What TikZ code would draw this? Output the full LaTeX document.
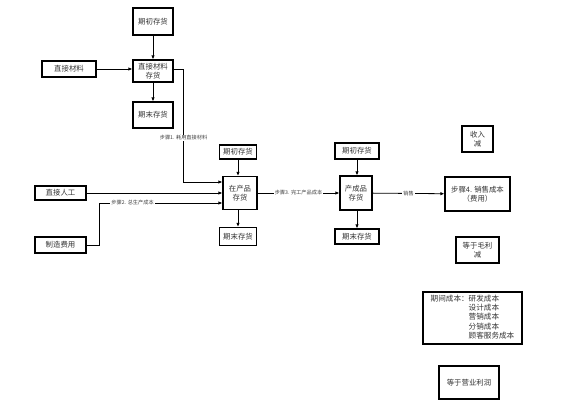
\documentclass[tikz,border=0pt]{standalone}
\usepackage{fontspec}
\setmainfont{Noto Sans CJK SC}
\usepackage{tikz}
\usetikzlibrary{positioning,arrows.meta,calc}
\tikzset{
  box/.style={draw=black, line width=1.1pt, fill=white, align=center, inner sep=0pt,
              font=\fontsize{7.4}{9.5}\selectfont, text=black!80},
  lbl/.style={fill=white, inner sep=1pt, font=\fontsize{5.2}{6}\selectfont, text=black!75},
  flowarr/.style={-{Latex[length=4pt,width=3.4pt]}, line width=.8pt, draw=black},
}

\begin{document}
\begin{tikzpicture}[x=1pt,y=-1pt]
  \useasboundingbox (0,0) rectangle (572,407);
  % raw materials
  \node[box, minimum width=40, minimum height=27] (bi1) at (153,21.5) {期初存货};
  \node[box, minimum width=40, minimum height=22] (dmi) at (153,71) {直接材料\\存货};
  \node[box, minimum width=54, minimum height=16] (dm) at (69,69) {直接材料};
  \node[box, minimum width=40, minimum height=26] (ei1) at (153,115) {期末存货};
  % work in process
  \node[box, minimum width=37, minimum height=14] (bi2) at (238,152) {期初存货};
  \node[box, minimum width=34, minimum height=33] (wip) at (240,193) {在产品\\存货};
  \node[box, minimum width=37, minimum height=18] (ei2) at (238,236.5) {期末存货};
  \node[box, minimum width=51, minimum height=14] (dl) at (60.5,193) {直接人工};
  \node[box, minimum width=51, minimum height=16] (moh) at (60.5,245) {制造费用};
  % finished goods
  \node[box, minimum width=44, minimum height=16] (bi3) at (357,151) {期初存货};
  \node[box, minimum width=32, minimum height=34] (fg) at (356,193) {产成品\\存货};
  \node[box, minimum width=44, minimum height=15] (ei3) at (357,236.5) {期末存货};
  % income statement
  \node[box, minimum width=31, minimum height=26] (rev) at (477.5,139) {收入\\减};
  \node[box, minimum width=65, minimum height=34] (cogs) at (477.5,194) {步骤4. 销售成本\\（费用）};
  \node[box, minimum width=43, minimum height=26] (gm) at (477.5,250) {等于毛利\\减};
  \node[box, minimum width=99, minimum height=52, font=\fontsize{7.6}{9.4}\selectfont] (per) at (472.5,318)
       {\begin{tabular}{@{}l@{}l@{}}期间成本：&研发成本\\ &设计成本\\ &营销成本\\ &分销成本\\ &顾客服务成本\end{tabular}};
  \node[box, minimum width=60, minimum height=33] (oi) at (469,382.5) {等于营业利润};

  \draw[flowarr] (bi1) -- (dmi);
  \draw[flowarr] (dm) -- (dmi.west |- dm);
  \draw[flowarr] (dmi) -- (ei1);
  \draw[flowarr] (dmi.east |- dm) -- ++(10,0) |- node[lbl,pos=.305]{步骤1. 耗用直接材料} ([yshift=11pt]wip.west);
  \draw[flowarr] (dl) -- (dl -| wip.west);
  \draw[flowarr] (moh.east) -- ++(12.5,0) |- node[lbl,pos=.636]{步骤2. 总生产成本} ([yshift=-10pt]wip.west);
  \draw[flowarr] (bi2) -- (bi2 |- wip.north);
  \draw[flowarr] (bi2 |- wip.south) -- (ei2);
  \draw[flowarr] (wip) -- node[lbl]{步骤3. 完工产品成本} (fg);
  \draw[flowarr] (bi3 |- bi3.south) -- (bi3 |- fg.north);
  \draw[flowarr] (bi3 |- fg.south) -- (ei3);
  \draw[flowarr] (fg) -- node[lbl]{销售} (cogs);
\end{tikzpicture}
\end{document}
